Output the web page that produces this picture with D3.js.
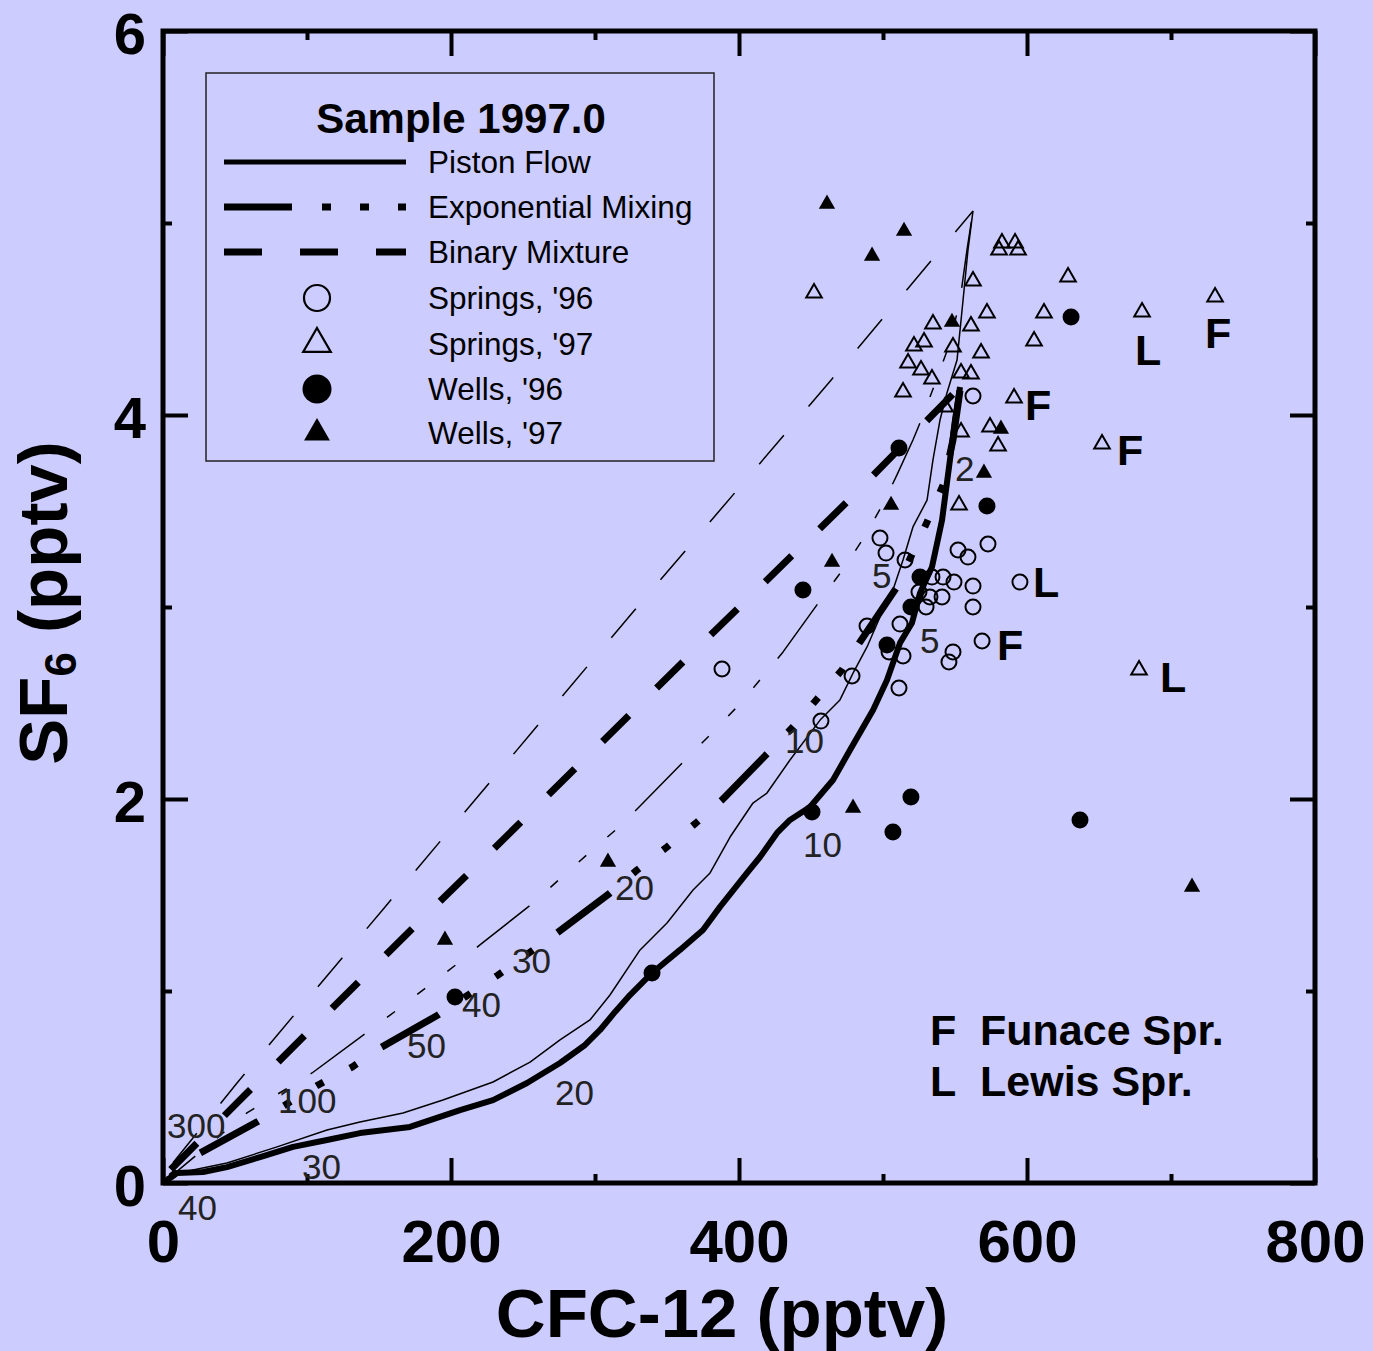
<!DOCTYPE html>
<html>
<head>
<meta charset="utf-8">
<script src="https://cdn.jsdelivr.net/npm/d3@7"></script>
<style>
  body { margin: 0; background: #ccccff; }
  text { font-family: "Liberation Sans", Arial, sans-serif; }
</style>
</head>
<body>
<div id="svgWrapper"></div>
<script>
const width = 1373;
const height = 1351;

// Axis ticks
const cfcTicks = [0, 200, 400, 600, 800];
const cfcMinor = [100, 300, 500, 700];
const sf6Ticks = [0, 2, 4, 6];
const sf6Minor = [1, 3, 5];

// Model curves [CFC-12, SF6]
const pistonFlow97 = [[0,0],[9.7,0.052],[27.8,0.057],[44.4,0.083],[67.4,0.135],[90.3,0.188],[113.9,0.224],[136.8,0.26],[171.5,0.292],[206.3,0.38],[229.2,0.432],[252.8,0.521],[275.7,0.625],[293.1,0.719],[303.5,0.797],[313.9,0.891],[324.3,0.979],[339.6,1.094],[359,1.214],[375,1.318],[386.8,1.438],[405.6,1.615],[414.6,1.698],[426.4,1.823],[435.4,1.891],[449.3,1.958],[465.3,2.099],[477.1,2.255],[493.1,2.464],[502.8,2.62],[511.8,2.813],[520.1,2.917],[525.7,3.073],[534,3.208],[541,3.453],[546.5,3.766],[550,3.974],[553.5,4.146]];
const pistonFlow96 = [[0,0],[2.8,0.031],[20.8,0.068],[44.4,0.104],[79.2,0.188],[113.9,0.276],[136.8,0.318],[166.7,0.365],[194.4,0.432],[229.2,0.526],[254.9,0.63],[275.7,0.745],[296.5,0.849],[310.4,0.979],[331.3,1.214],[350,1.354],[368.1,1.526],[379.9,1.615],[393.8,1.802],[409.7,1.979],[419.4,2.031],[435.4,2.203],[456.3,2.411],[470.1,2.516],[479.2,2.656],[488.9,2.792],[497.9,2.948],[506.9,3.089],[513.9,3.245],[520.8,3.417],[530.6,3.557],[534.7,3.766],[539.6,3.974],[544.4,4.115],[551.4,4.286],[555.6,4.599],[559,4.859],[562.5,5.063]];
const exponential97 = [[0,0],[25.7,0.156],[65.3,0.318],[107.6,0.51],[131.3,0.604],[150.7,0.703],[191,0.875],[232.6,1.083],[273.6,1.302],[310.4,1.51],[329.2,1.63],[350,1.75],[370.1,1.875],[388.2,1.995],[420.1,2.24],[436.8,2.37],[454.2,2.521],[471.5,2.672],[484,2.818],[509.7,3.104],[530.6,3.443],[541.7,3.635],[548.6,3.87],[553.5,4.13]];
const exponential96 = [[0,0],[58.3,0.365],[103.5,0.573],[141,0.781],[162.5,0.901],[183.3,1.021],[204.2,1.141],[220.1,1.24],[256.9,1.458],[277.1,1.594],[296.5,1.724],[316.7,1.854],[330.6,1.958],[363.2,2.208],[381.9,2.349],[400,2.49],[417.4,2.646],[430.6,2.766],[457.6,3.047],[472.9,3.203],[487.5,3.37],[500.7,3.547],[509.7,3.688],[520.8,3.87],[528.5,4.01],[546.5,4.375],[553.5,4.599],[558.3,4.859],[562.5,5.063]];
const binary97 = [[0,0.03],[58.3,0.469],[171.5,1.313],[247.9,1.875],[361.1,2.714],[475.7,3.552],[550,4.12]];
const binary96 = [[0,0.04],[51.4,0.521],[154.2,1.438],[326.4,2.974],[464.6,4.188],[562.5,5.063]];

// Samples [CFC-12, SF6]
const springs96 = [[388.2,2.677],[456.9,2.406],[478.5,2.641],[488.9,2.901],[497.9,3.359],[502.1,3.281],[515.3,3.245],[511.8,2.911],[534,3.156],[541.7,3.156],[549.3,3.13],[552.1,3.297],[559,3.26],[572.9,3.328],[562.5,3.109],[525,3.078],[532.6,3.052],[541,3.052],[529.9,3],[562.5,3],[568.8,2.823],[504.2,2.766],[513.9,2.745],[548.6,2.766],[545.8,2.714],[511.1,2.578],[595.1,3.13],[562.5,4.099]];
const springs97 = [[452.1,4.635],[582.6,4.896],[591.7,4.896],[580.6,4.859],[593.8,4.859],[628.5,4.719],[562.5,4.698],[572.2,4.531],[611.8,4.531],[679.9,4.536],[730.6,4.615],[534.7,4.474],[561.1,4.464],[604.9,4.385],[528.5,4.38],[521.5,4.359],[548.6,4.354],[568.1,4.323],[517.4,4.271],[526.4,4.234],[534,4.188],[554.2,4.219],[561.1,4.214],[513.9,4.12],[591,4.089],[543.1,4.042],[554.2,3.911],[574.3,3.938],[579.9,3.839],[652.1,3.849],[552.8,3.531],[677.8,2.672]];
const wells96 = [[630.6,4.51],[511.1,3.828],[572.2,3.526],[444.4,3.089],[525.7,3.156],[519.4,3],[502.8,2.802],[450.7,1.932],[519.4,2.01],[506.9,1.828],[636.8,1.891],[339.6,1.094],[202.8,0.969]];
const wells97 = [[461.1,5.099],[514.6,4.958],[492.4,4.828],[547.9,4.484],[581.9,3.927],[570.1,3.698],[505.6,3.531],[464.6,3.234],[479.2,1.953],[309,1.672],[195.8,1.266],[714.6,1.542]];

// Age labels along curves and site letters [text, CFC-12, SF6]
const exponentialAges = [["300",2.8,0.234],["100",79.9,0.365],["50",169.4,0.651],["40",207.6,0.865],["30",242.4,1.094],["20",313.9,1.474],["10",431.9,2.24],["5",492.4,3.099],["2",550,3.656]];
const pistonAges = [["40",10.4,-0.193],["30",96.5,0.021],["20",272.2,0.406],["10",444.4,1.698],["5",525.7,2.76]];
const siteLetters = [["L",675,4.26],["F",723.6,4.349],["F",598.6,3.974],["F",662.5,3.74],["L",604.2,3.052],["F",579.2,2.724],["L",692.4,2.557]];

const legendLines = ["Piston Flow", "Exponential Mixing", "Binary Mixture"];
const legendSymbols = ["Springs, '96", "Springs, '97", "Wells, '96", "Wells, '97"];
const siteKey = [["F", "Funace Spr."], ["L", "Lewis Spr."]];

const svg = d3.select("#svgWrapper")
    .append("svg")
    .attr("width", width)
    .attr("height", height);

svg.append("rect")
    .attr("width", width)
    .attr("height", height)
    .attr("fill", "#ccccff");

const plotLeft = 163, plotRight = 1315, plotTop = 31, plotBottom = 1183;
const x = d3.scaleLinear().domain([0, 800]).range([plotLeft, plotRight]);
const y = d3.scaleLinear().domain([0, 6]).range([plotBottom, plotTop]);

svg.append("clipPath").attr("id", "plotClip")
  .append("rect")
    .attr("x", plotLeft).attr("y", plotTop)
    .attr("width", plotRight - plotLeft).attr("height", plotBottom - plotTop);

// Tick marks on all four sides, pointing inward
function ticks(axis, values, size, transform) {
    svg.append("g")
        .attr("transform", transform)
        .call(axis.tickValues(values).tickSize(size).tickFormat(""))
        .call(g => g.select(".domain").remove())
        .call(g => g.selectAll("line").attr("stroke", "#000").attr("stroke-width", 4));
}
ticks(d3.axisBottom(x), cfcTicks, -25, `translate(0,${plotBottom})`);
ticks(d3.axisBottom(x), cfcMinor, -9, `translate(0,${plotBottom})`);
ticks(d3.axisTop(x), cfcTicks, -25, `translate(0,${plotTop})`);
ticks(d3.axisTop(x), cfcMinor, -9, `translate(0,${plotTop})`);
ticks(d3.axisLeft(y), sf6Ticks, -25, `translate(${plotLeft},0)`);
ticks(d3.axisLeft(y), sf6Minor, -9, `translate(${plotLeft},0)`);
ticks(d3.axisRight(y), sf6Ticks, -25, `translate(${plotRight},0)`);
ticks(d3.axisRight(y), sf6Minor, -9, `translate(${plotRight},0)`);

// Tick labels
function tickLabels(axis, values, pad, size, transform) {
    return svg.append("g")
        .attr("transform", transform)
        .call(axis.tickValues(values).tickSize(0).tickPadding(pad).tickFormat(d3.format("d")))
        .call(g => g.select(".domain").remove())
        .call(g => g.selectAll("text")
            .attr("fill", "#000")
            .attr("font-size", size)
            .attr("font-weight", "bold")
            .attr("font-family", "'Liberation Sans', Arial, sans-serif"));
}
tickLabels(d3.axisBottom(x), cfcTicks, 36, 60, `translate(0,${plotBottom})`);
tickLabels(d3.axisLeft(y), sf6Ticks, 17, 58, `translate(${plotLeft},0)`)
    .selectAll("text").attr("dy", "0.38em");

// Axis titles
svg.append("text")
    .attr("x", 722).attr("y", 1337)
    .attr("text-anchor", "middle")
    .attr("font-size", 69).attr("font-weight", "bold")
    .text("CFC-12 (pptv)");

const yTitle = svg.append("text")
    .attr("transform", "translate(67,603) rotate(-90)")
    .attr("text-anchor", "middle")
    .attr("font-size", 69).attr("font-weight", "bold");
yTitle.append("tspan").text("SF");
yTitle.append("tspan").attr("font-size", 44).attr("dy", 9).text("6");
yTitle.append("tspan").attr("dy", -9).text(" (pptv)");

// Model curves
const line = d3.line().x(d => x(d[0])).y(d => y(d[1]));
const curves = svg.append("g").attr("clip-path", "url(#plotClip)");
const curveStyles = [
    { data: binary96, w: 1.5, dash: "38,38", off: 60 },
    { data: exponential96, w: 1.5, dash: "67,28,10,28,10,28,10,28", off: 25 },
    { data: pistonFlow96, w: 1.5, dash: null, off: 0 },
    { data: binary97, w: 7, dash: "37,39", off: 65 },
    { data: exponential97, w: 7, dash: "66,30,8,30,8,30,8,30", off: 162 },
    { data: pistonFlow97, w: 6, dash: null, off: 0 }
];
curveStyles.forEach(c => {
    curves.append("path")
        .attr("d", line(c.data))
        .attr("fill", "none")
        .attr("stroke", "#000")
        .attr("stroke-width", c.w)
        .attr("stroke-linejoin", "round")
        .attr("stroke-dasharray", c.dash)
        .attr("stroke-dashoffset", c.off);
});

// Frame
svg.append("rect")
    .attr("x", plotLeft).attr("y", plotTop)
    .attr("width", plotRight - plotLeft).attr("height", plotBottom - plotTop)
    .attr("fill", "none").attr("stroke", "#000").attr("stroke-width", 5);

// Samples
const tri = d3.symbol().type(d3.symbolTriangle);
const pts = svg.append("g");
pts.selectAll(".s96").data(springs96).enter().append("circle")
    .attr("cx", d => x(d[0])).attr("cy", d => y(d[1])).attr("r", 7.5)
    .attr("fill", "none").attr("stroke", "#000").attr("stroke-width", 2);
pts.selectAll(".s97").data(springs97).enter().append("path")
    .attr("d", tri.size(105)())
    .attr("transform", d => `translate(${x(d[0])},${y(d[1])})`)
    .attr("fill", "none").attr("stroke", "#000").attr("stroke-width", 2);
pts.selectAll(".w96").data(wells96).enter().append("circle")
    .attr("cx", d => x(d[0])).attr("cy", d => y(d[1])).attr("r", 8.5)
    .attr("fill", "#000");
pts.selectAll(".w97").data(wells97).enter().append("path")
    .attr("d", tri.size(115)())
    .attr("transform", d => `translate(${x(d[0])},${y(d[1])})`)
    .attr("fill", "#000");

// Age labels
svg.append("g").selectAll("text")
    .data(exponentialAges.concat(pistonAges)).enter().append("text")
    .attr("x", d => x(d[1])).attr("y", d => y(d[2]))
    .attr("font-size", 35).attr("fill", "#222")
    .text(d => d[0]);

// Site letters
svg.append("g").selectAll("text")
    .data(siteLetters).enter().append("text")
    .attr("x", d => x(d[1])).attr("y", d => y(d[2]))
    .attr("font-size", 43).attr("font-weight", "bold")
    .text(d => d[0]);

// Site key
siteKey.forEach((k, i) => {
    svg.append("text").attr("x", 930).attr("y", 1045 + i * 51)
        .attr("font-size", 43).attr("font-weight", "bold").text(k[0]);
    svg.append("text").attr("x", 980).attr("y", 1045 + i * 51)
        .attr("font-size", 43).attr("font-weight", "bold").text(k[1]);
});

// Legend
const legend = svg.append("g");
legend.append("rect")
    .attr("x", 206).attr("y", 73).attr("width", 508).attr("height", 388)
    .attr("fill", "none").attr("stroke", "#222").attr("stroke-width", 1.5);
legend.append("text")
    .attr("x", 461).attr("y", 133)
    .attr("text-anchor", "middle")
    .attr("font-size", 42).attr("font-weight", "bold")
    .text("Sample 1997.0");

const legendDash = [null, "68,30,9,29,9,29,9,29", "38,38"];
const legendWidth = [5, 7, 7];
legendLines.forEach((name, i) => {
    const ly = 162 + i * 45;
    legend.append("line")
        .attr("x1", 224).attr("x2", 406).attr("y1", ly).attr("y2", ly)
        .attr("stroke", "#000").attr("stroke-width", legendWidth[i])
        .attr("stroke-dasharray", legendDash[i]);
    legend.append("text").attr("x", 428).attr("y", ly + 11)
        .attr("font-size", 31.5).text(name);
});

const symY = [298, 344, 389, 433];
legend.append("circle").attr("cx", 317).attr("cy", symY[0]).attr("r", 13)
    .attr("fill", "none").attr("stroke", "#000").attr("stroke-width", 2.2);
legend.append("path").attr("d", tri.size(330)())
    .attr("transform", `translate(317,${symY[1]})`)
    .attr("fill", "none").attr("stroke", "#000").attr("stroke-width", 2.2);
legend.append("circle").attr("cx", 317).attr("cy", symY[2]).attr("r", 14.5)
    .attr("fill", "#000");
legend.append("path").attr("d", tri.size(290)())
    .attr("transform", `translate(317,${symY[3]})`)
    .attr("fill", "#000");
legendSymbols.forEach((name, i) => {
    legend.append("text").attr("x", 428).attr("y", symY[i] + 11)
        .attr("font-size", 31.5).text(name);
});
</script>
</body>
</html>
